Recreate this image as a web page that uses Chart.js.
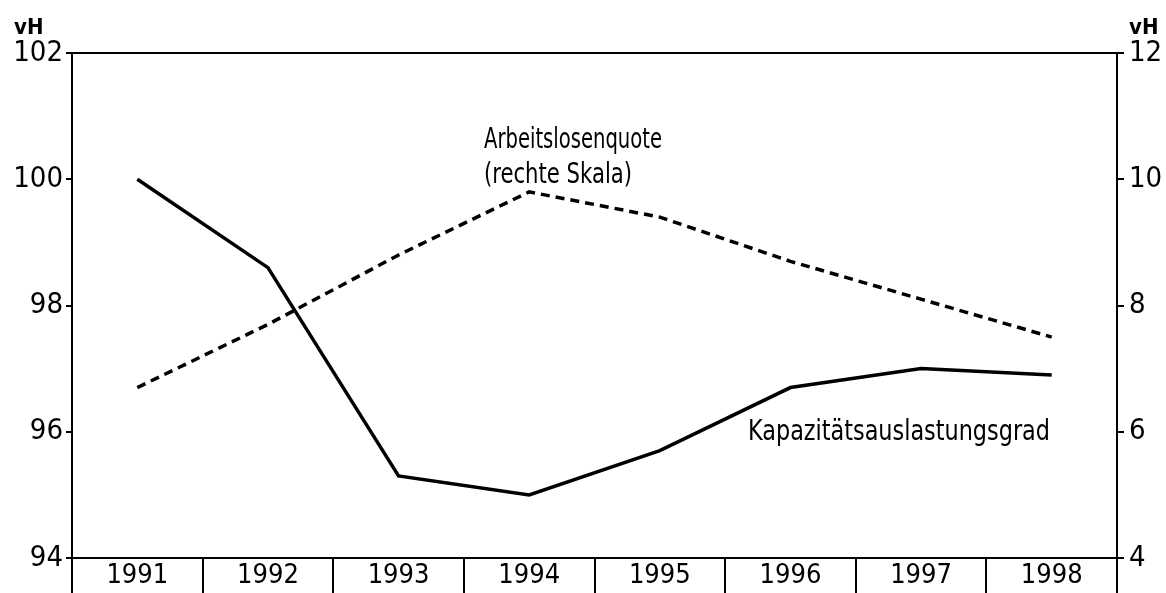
<!DOCTYPE html>
<html>
<head>
<meta charset="utf-8">
<script src="https://cdn.jsdelivr.net/npm/chart.js@4.4.0/dist/chart.umd.min.js"></script>
<style>
  html, body { margin: 0; padding: 0; background: #fff; }
</style>
</head>
<body>
<canvas id="myChart" width="1166" height="593"></canvas>
<script>
// Daten
var years = ["1991", "1992", "1993", "1994", "1995", "1996", "1997", "1998"];
var kapazitaet = [100, 98.6, 95.3, 95.0, 95.7, 96.7, 97.0, 96.9];
var arbeitslosenquote = [6.7, 7.7, 8.8, 9.8, 9.4, 8.7, 8.1, 7.5];
var leftTicks = [94, 96, 98, 100, 102];
var rightTicks = [4, 6, 8, 10, 12];

var fontFam = '"DejaVu Sans Condensed", "DejaVu Sans", sans-serif';

// Rahmen oben, "vH" und Beschriftungen der Linien
var extras = {
    id: 'extras',
    afterDraw: function(chart) {
        var c = chart.ctx, a = chart.chartArea;
        c.save();
        c.strokeStyle = '#000';
        c.lineWidth = 2;
        c.beginPath();
        c.moveTo(a.left, a.top);
        c.lineTo(a.right, a.top);
        c.stroke();

        c.fillStyle = '#000';
        c.textAlign = 'left';
        c.textBaseline = 'alphabetic';
        c.font = 'bold 22px ' + fontFam;
        c.fillText('vH', 14, 34);
        c.fillText('vH', 1129, 34);

        c.font = '28px ' + fontFam;
        c.fillText('Arbeitslosenquote', 484, 148, 178);
        c.fillText('(rechte Skala)', 484, 183, 148);
        c.fillText('Kapazitätsauslastungsgrad', 748, 440, 302);
        c.restore();
    }
};

var ctx = document.getElementById('myChart').getContext('2d');
var chart = new Chart(ctx, {
    type: 'line',
    data: {
        labels: years,
        datasets: [{
            label: 'Kapazitätsauslastungsgrad',
            data: kapazitaet,
            yAxisID: 'y',
            borderColor: '#000',
            borderWidth: 3.5,
            pointRadius: 0,
            tension: 0
        }, {
            label: 'Arbeitslosenquote (rechte Skala)',
            data: arbeitslosenquote,
            yAxisID: 'y1',
            borderColor: '#000',
            borderWidth: 3.5,
            borderDash: [9, 6],
            pointRadius: 0,
            tension: 0
        }]
    },
    options: {
        responsive: false,
        animation: false,
        layout: { padding: { top: 53, left: 0, right: 0, bottom: 0 } },
        plugins: {
            legend: { display: false },
            tooltip: { enabled: false }
        },
        scales: {
            x: {
                offset: true,
                grid: {
                    offset: true,
                    drawOnChartArea: false,
                    color: '#000',
                    lineWidth: 2,
                    tickLength: 35
                },
                border: { color: '#000', width: 2 },
                ticks: {
                    color: '#000',
                    font: { family: fontFam, size: 27 },
                    padding: -33,
                    maxRotation: 0
                },
                afterFit: function(scale) { scale.height = 35; }
            },
            y: {
                position: 'left',
                min: 94,
                max: 102,
                afterBuildTicks: function(scale) {
                    scale.ticks = leftTicks.map(function(v) { return { value: v }; });
                },
                grid: {
                    drawOnChartArea: false,
                    color: '#000',
                    lineWidth: 2,
                    tickLength: 6
                },
                border: { color: '#000', width: 2 },
                ticks: {
                    color: '#000',
                    font: { family: fontFam, size: 29 },
                    padding: 3
                },
                afterFit: function(scale) { scale.width = 72; }
            },
            y1: {
                position: 'right',
                min: 4,
                max: 12,
                afterBuildTicks: function(scale) {
                    scale.ticks = rightTicks.map(function(v) { return { value: v }; });
                },
                grid: {
                    drawOnChartArea: false,
                    color: '#000',
                    lineWidth: 2,
                    tickLength: 7
                },
                border: { color: '#000', width: 2 },
                ticks: {
                    color: '#000',
                    font: { family: fontFam, size: 29 },
                    padding: 5
                },
                afterFit: function(scale) { scale.width = 49; }
            }
        }
    },
    plugins: [extras]
});
</script>
</body>
</html>
